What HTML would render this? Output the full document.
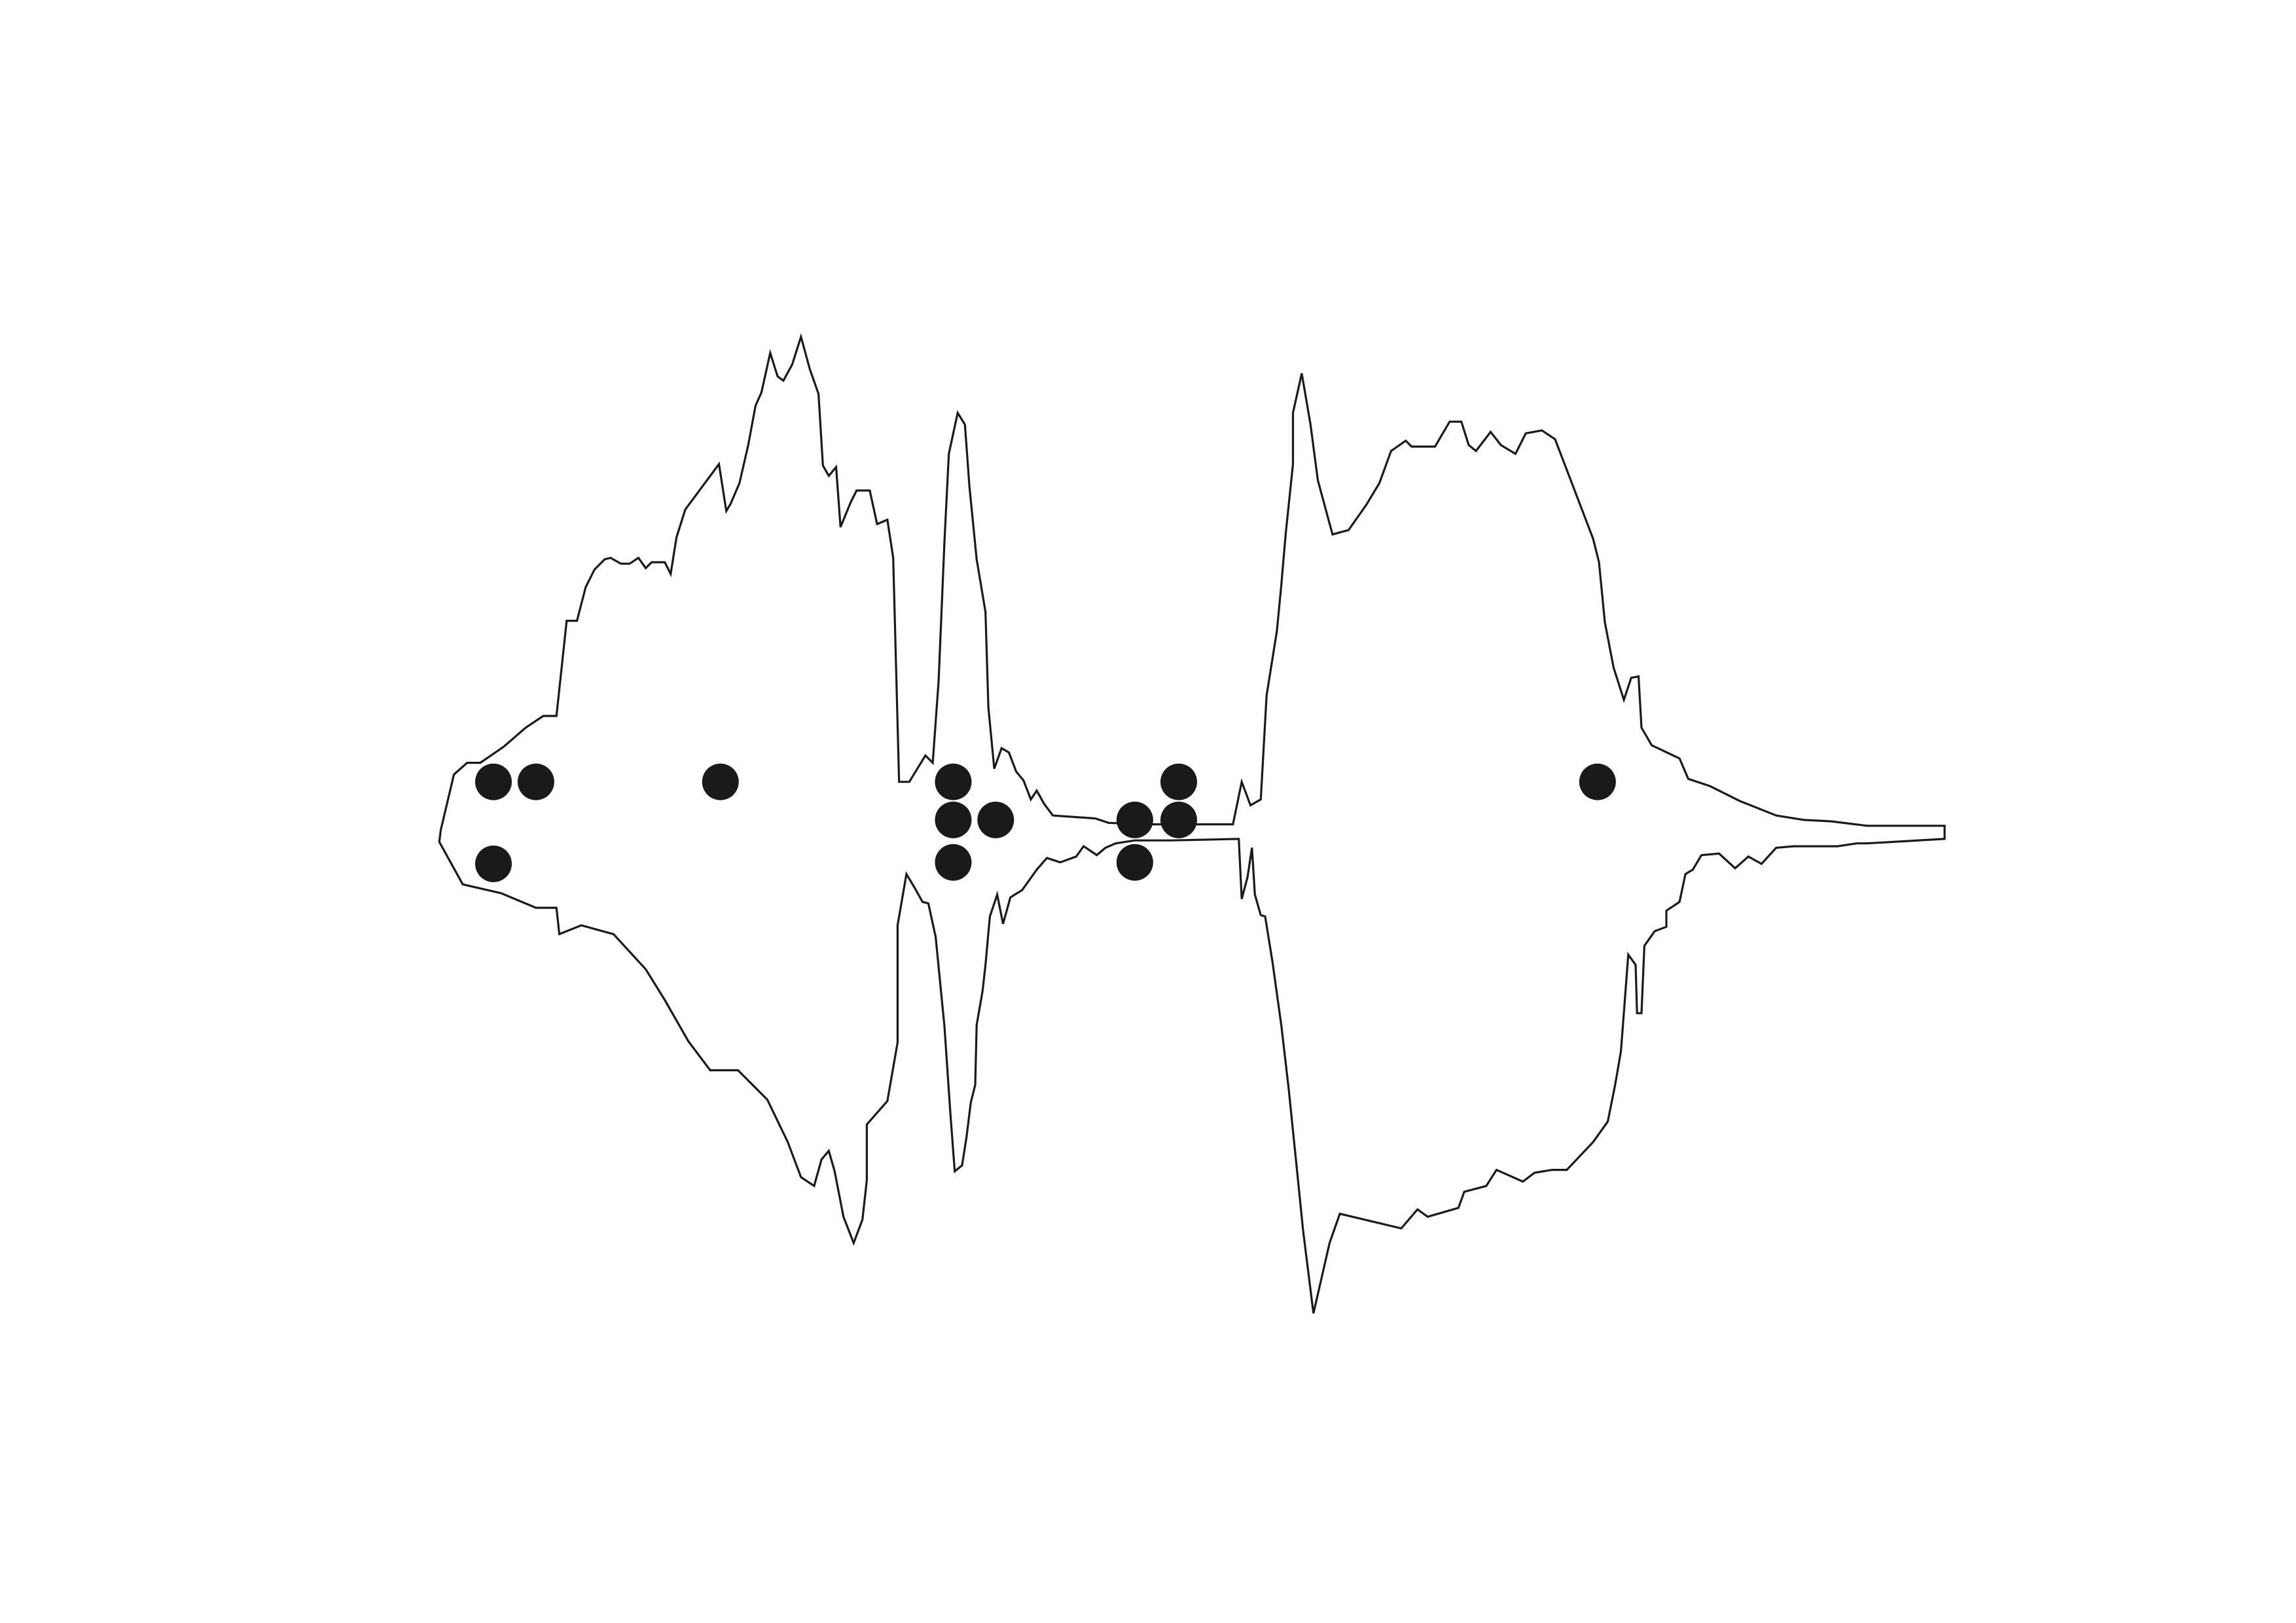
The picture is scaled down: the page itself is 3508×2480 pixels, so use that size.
<!DOCTYPE html>
<html><head><meta charset="utf-8"><style>
html,body{margin:0;padding:0;background:#fff;}
svg{display:block;}
</style></head>
<body>
<svg id="chart" width="3508" height="2480" viewBox="0 0 3508 2480" xmlns="http://www.w3.org/2000/svg">
<rect width="3508" height="2480" fill="#fff"/>
<g id="marks"></g>
</svg>
<script>
const outlineX = [300,301,310,319,328,344,359,371,380,387,394,400,406,413,417,424,430,436,441,445,454,458,462,468,491,496,499,505,511,516,520,526,531,535,541,547,553,559,562,566,571,574,581,585,594,599,606,610,614,621,632,637,641,645,648,654,659,662,667,673,675,679,684,689,694,699,704,708,713,719,748,757,780,842,848,854,861,865,872,875,878,883,883,889,895,900,910,921,933,942,950,960,964,980,990,998,1003,1008,1018,1025,1035,1042,1053,1062,1088,1092,1096,1102,1109,1114,1119,1121,1128,1147,1153,1168,1188,1213,1232,1251,1275,1328,1328,1275,1268,1255,1225,1213,1203,1194,1185,1174,1162,1156,1151,1147,1138,1138,1130,1123,1121,1118,1117,1112,1107,1103,1098,1088,1070,1060,1048,1040,1022,1015,1000,996,975,968,957,915,908,897,890,885,880,875,869,864,861,857,855,852,848,846,800,775,762,755,749,740,735,724,715,708,698,693,690,685,681,676,673,671,667,666,663,660,657,652,649,645,639,634,630,625,619,613,613,606,592,592,589,583,576,570,566,561,556,547,538,524,504,485,470,454,441,419,397,382,380,366,342,316,300];
const outlineY = [575,567,529,521,521,510,497,489,489,424,424,401,389,382,381,385,385,381,388,384,384,392,367,348,317,349,344,330,304,277,268,241,257,260,249,230,252,269,318,325,319,360,343,335,335,358,355,381,534,534,516,521,465,370,310,282,290,332,382,418,483,525,511,514,527,533,546,540,549,557,559,562,563,563,534,550,546,475,431,400,365,317,282,255,290,328,365,362,345,330,308,301,305,305,288,288,304,308,295,304,310,296,294,300,368,384,425,456,478,463,462,497,509,518,532,537,547,557,560,561,564,564,573,576,576,578,578,579,590,585,593,583,584,594,597,616,622,633,636,646,692,692,659,652,718,741,766,780,799,799,801,807,799,810,814,825,831,826,839,829,849,897,841,792,743,700,657,626,625,611,579,599,614,573,574,574,576,579,584,578,585,589,586,594,608,611,613,631,611,626,659,677,700,741,753,777,796,800,760,701,640,617,616,607,597,632,712,752,768,806,833,849,831,800,786,792,810,804,780,751,731,731,711,683,662,638,632,638,620,620,610,604,575];
const dotX = [337,366,492,337,651,651,680,651,775,775,805,805,1091];
const dotY = [534,534,534,590,534,560,560,589,560,589,534,560,534];

const S = 3508/1568;
function sx(v){return v*S;}
function sy(v){return v*S;}
const NS='http://www.w3.org/2000/svg';
const g=document.getElementById('marks');
let d='';
for(let i=0;i<outlineX.length;i++){d+=(i?'L':'M')+sx(outlineX[i]).toFixed(1)+' '+sy(outlineY[i]).toFixed(1);}
d+='Z';
const p=document.createElementNS(NS,'path');
p.setAttribute('d',d);
p.setAttribute('fill','none');
p.setAttribute('stroke','#1a1a1a');
p.setAttribute('stroke-width','3.2');
p.setAttribute('stroke-linejoin','miter');


g.appendChild(p);
for(let i=0;i<dotX.length;i++){
  const c=document.createElementNS(NS,'circle');
  c.setAttribute('cx',sx(dotX[i]));
  c.setAttribute('cy',sy(dotY[i]));
  c.setAttribute('r',28);
  c.setAttribute('fill','#1a1a1a');
  
  
  g.appendChild(c);
}
</script>
</body></html>
